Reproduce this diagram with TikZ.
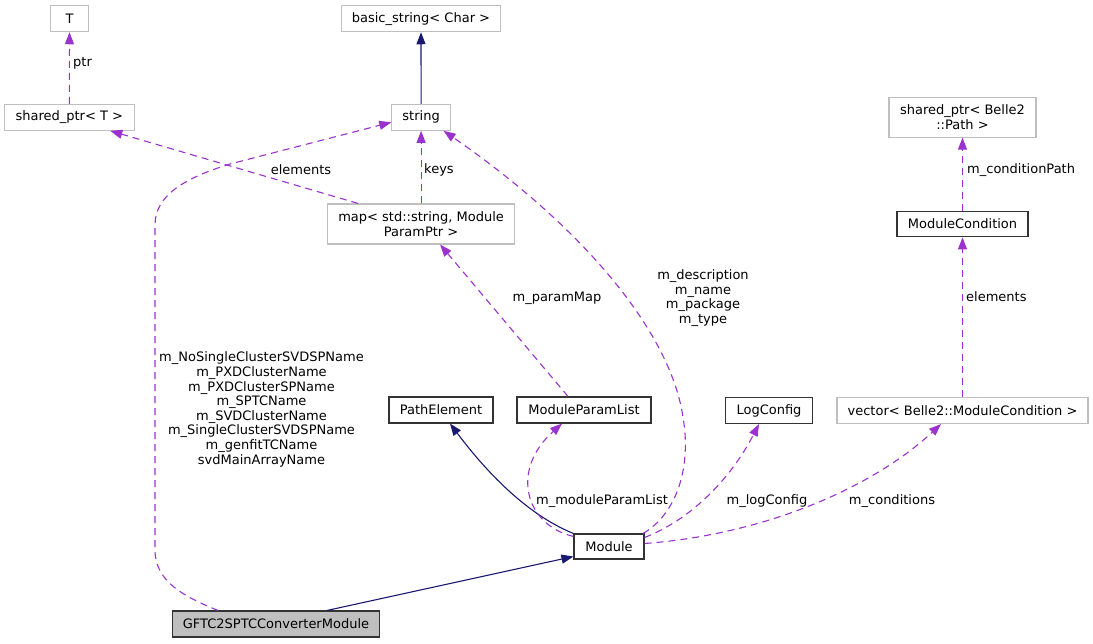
\documentclass[tikz,border=0pt]{standalone}
\usepackage{fontspec}
\setmainfont{DejaVu Sans}
\usetikzlibrary{arrows.meta}
\definecolor{dpurple}{HTML}{9A32CD}
\definecolor{dnavy}{HTML}{191970}
\definecolor{dgrey}{HTML}{BFBFBF}
\begin{document}
\begin{tikzpicture}[x=1pt,y=-1pt,
  box/.style={draw=dgrey, line width=1.1pt, inner sep=0pt, minimum height=26pt, align=center, font=\fontsize{13}{14.6}\selectfont},
  dbox/.style={box, draw=black!80},
  inh/.style={draw=dnavy, line width=1.1pt, -{Triangle[length=12pt,width=9pt]}},
  use/.style={draw=dpurple, line width=1.1pt, dash pattern=on 7pt off 5pt, -{Triangle[length=12pt,width=9pt]}},
  lbl/.style={inner sep=0pt, align=center, font=\fontsize{13}{14.6}\selectfont}
]
\useasboundingbox (0,0) rectangle (1093,643);

% nodes
\node[box, minimum width=38.5pt] (T) at (69.5,18.7) {T};
\node[box, minimum width=159.5pt] (bstr) at (421,18.7) {basic\_string< Char >};
\node[box, minimum width=130pt] (shptr) at (69.3,117.3) {shared\_ptr< T >};
\node[box, minimum width=58.6pt] (string) at (421.1,117.3) {string};
\node[box, minimum width=187pt, minimum height=40pt] (map) at (421.1,224) {map< std::string, Module\\ParamPtr >};
\node[box, minimum width=147pt, minimum height=39.7pt] (shpath) at (962.5,117.2) {shared\_ptr< Belle2\\::Path >};
\node[dbox, minimum width=131pt, minimum height=25.7pt] (modcond) at (962.5,224) {ModuleCondition};
\node[dbox, minimum width=104pt] (pathel) at (441,410) {PathElement};
\node[dbox, minimum width=134pt] (mpl) at (584,410) {ModuleParamList};
\node[dbox, minimum width=87pt] (logc) at (769,410.5) {LogConfig};
\node[box, minimum width=251pt] (vec) at (962.5,410.5) {vector< Belle2::ModuleCondition >};
\node[dbox, minimum width=70pt, minimum height=25pt] (module) at (609,546.5) {Module};
\node[dbox, fill=dgrey, minimum width=207pt] (gftc) at (276,624) {GFTC2SPTCConverterModule};

% edges
\draw[use] (shptr.north) -- (T.south);
\node[lbl, anchor=west] (lptr) at (73,63) {ptr};

\draw[inh] (string.north) -- (bstr.south);

\draw[use] ([xshift=-63pt]map.north) -- ([xshift=41pt]shptr.south);
\node[lbl] (lel1) at (301,170) {elements};

\draw[use] (map.north) -- (string.south);
\node[lbl, anchor=west] (lkeys) at (424,170) {keys};

\draw[use] ([xshift=-58pt]gftc.north) .. controls (185,597) and (155,582) .. (155,550)
  -- (155,225) .. controls (155,195) and (185,178) .. (230,164) -- ([yshift=-5pt]string.west);
\node[lbl] (lgftc) at (261.5,409.5) {m\_NoSingleClusterSVDSPName\\m\_PXDClusterName\\m\_PXDClusterSPName\\m\_SPTCName\\m\_SVDClusterName\\m\_SingleClusterSVDSPName\\m\_genfitTCName\\svdMainArrayName};

\draw[use] ([xshift=34pt]module.north) .. controls (675,515) and (692,470) .. (683,417)
  .. controls (670,330) and (580,225) .. ([xshift=22.5pt]string.south);
\node[lbl] (ldesc) at (703,298) {m\_description\\m\_name\\m\_package\\m\_type};

\draw[use] ([xshift=-16pt]mpl.north) -- ([xshift=19pt]map.south);
\node[lbl] (lpm) at (557,298) {m\_paramMap};

\draw[inh] (module.north west) .. controls (540,520) and (500,490) .. ([xshift=9pt]pathel.south);

\draw[use] ([yshift=-3pt]module.north west) .. controls (525,525) and (510,470) .. ([xshift=-22pt]mpl.south);
\node[lbl] (lmpl) at (602,501) {m\_moduleParamList};

\draw[use] ([yshift=-4pt]module.north east) .. controls (690,520) and (730,480) .. ([xshift=-10pt]logc.south);
\node[lbl] (llog) at (767,501) {m\_logConfig};

\draw[use] ([yshift=3pt]module.east) .. controls (760,535) and (870,490) .. ([xshift=-21.5pt]vec.south);
\node[lbl] (lcond) at (892,501) {m\_conditions};

\draw[use] (modcond.north) -- (shpath.south);
\node[lbl, anchor=west] (lcp) at (967,170) {m\_conditionPath};

\draw[use] (vec.north) -- (modcond.south);
\node[lbl, anchor=west] (lel2) at (966,297) {elements};

\draw[inh] ([xshift=51pt]gftc.north) -- ([yshift=-10pt]module.west);
\end{tikzpicture}
\end{document}
